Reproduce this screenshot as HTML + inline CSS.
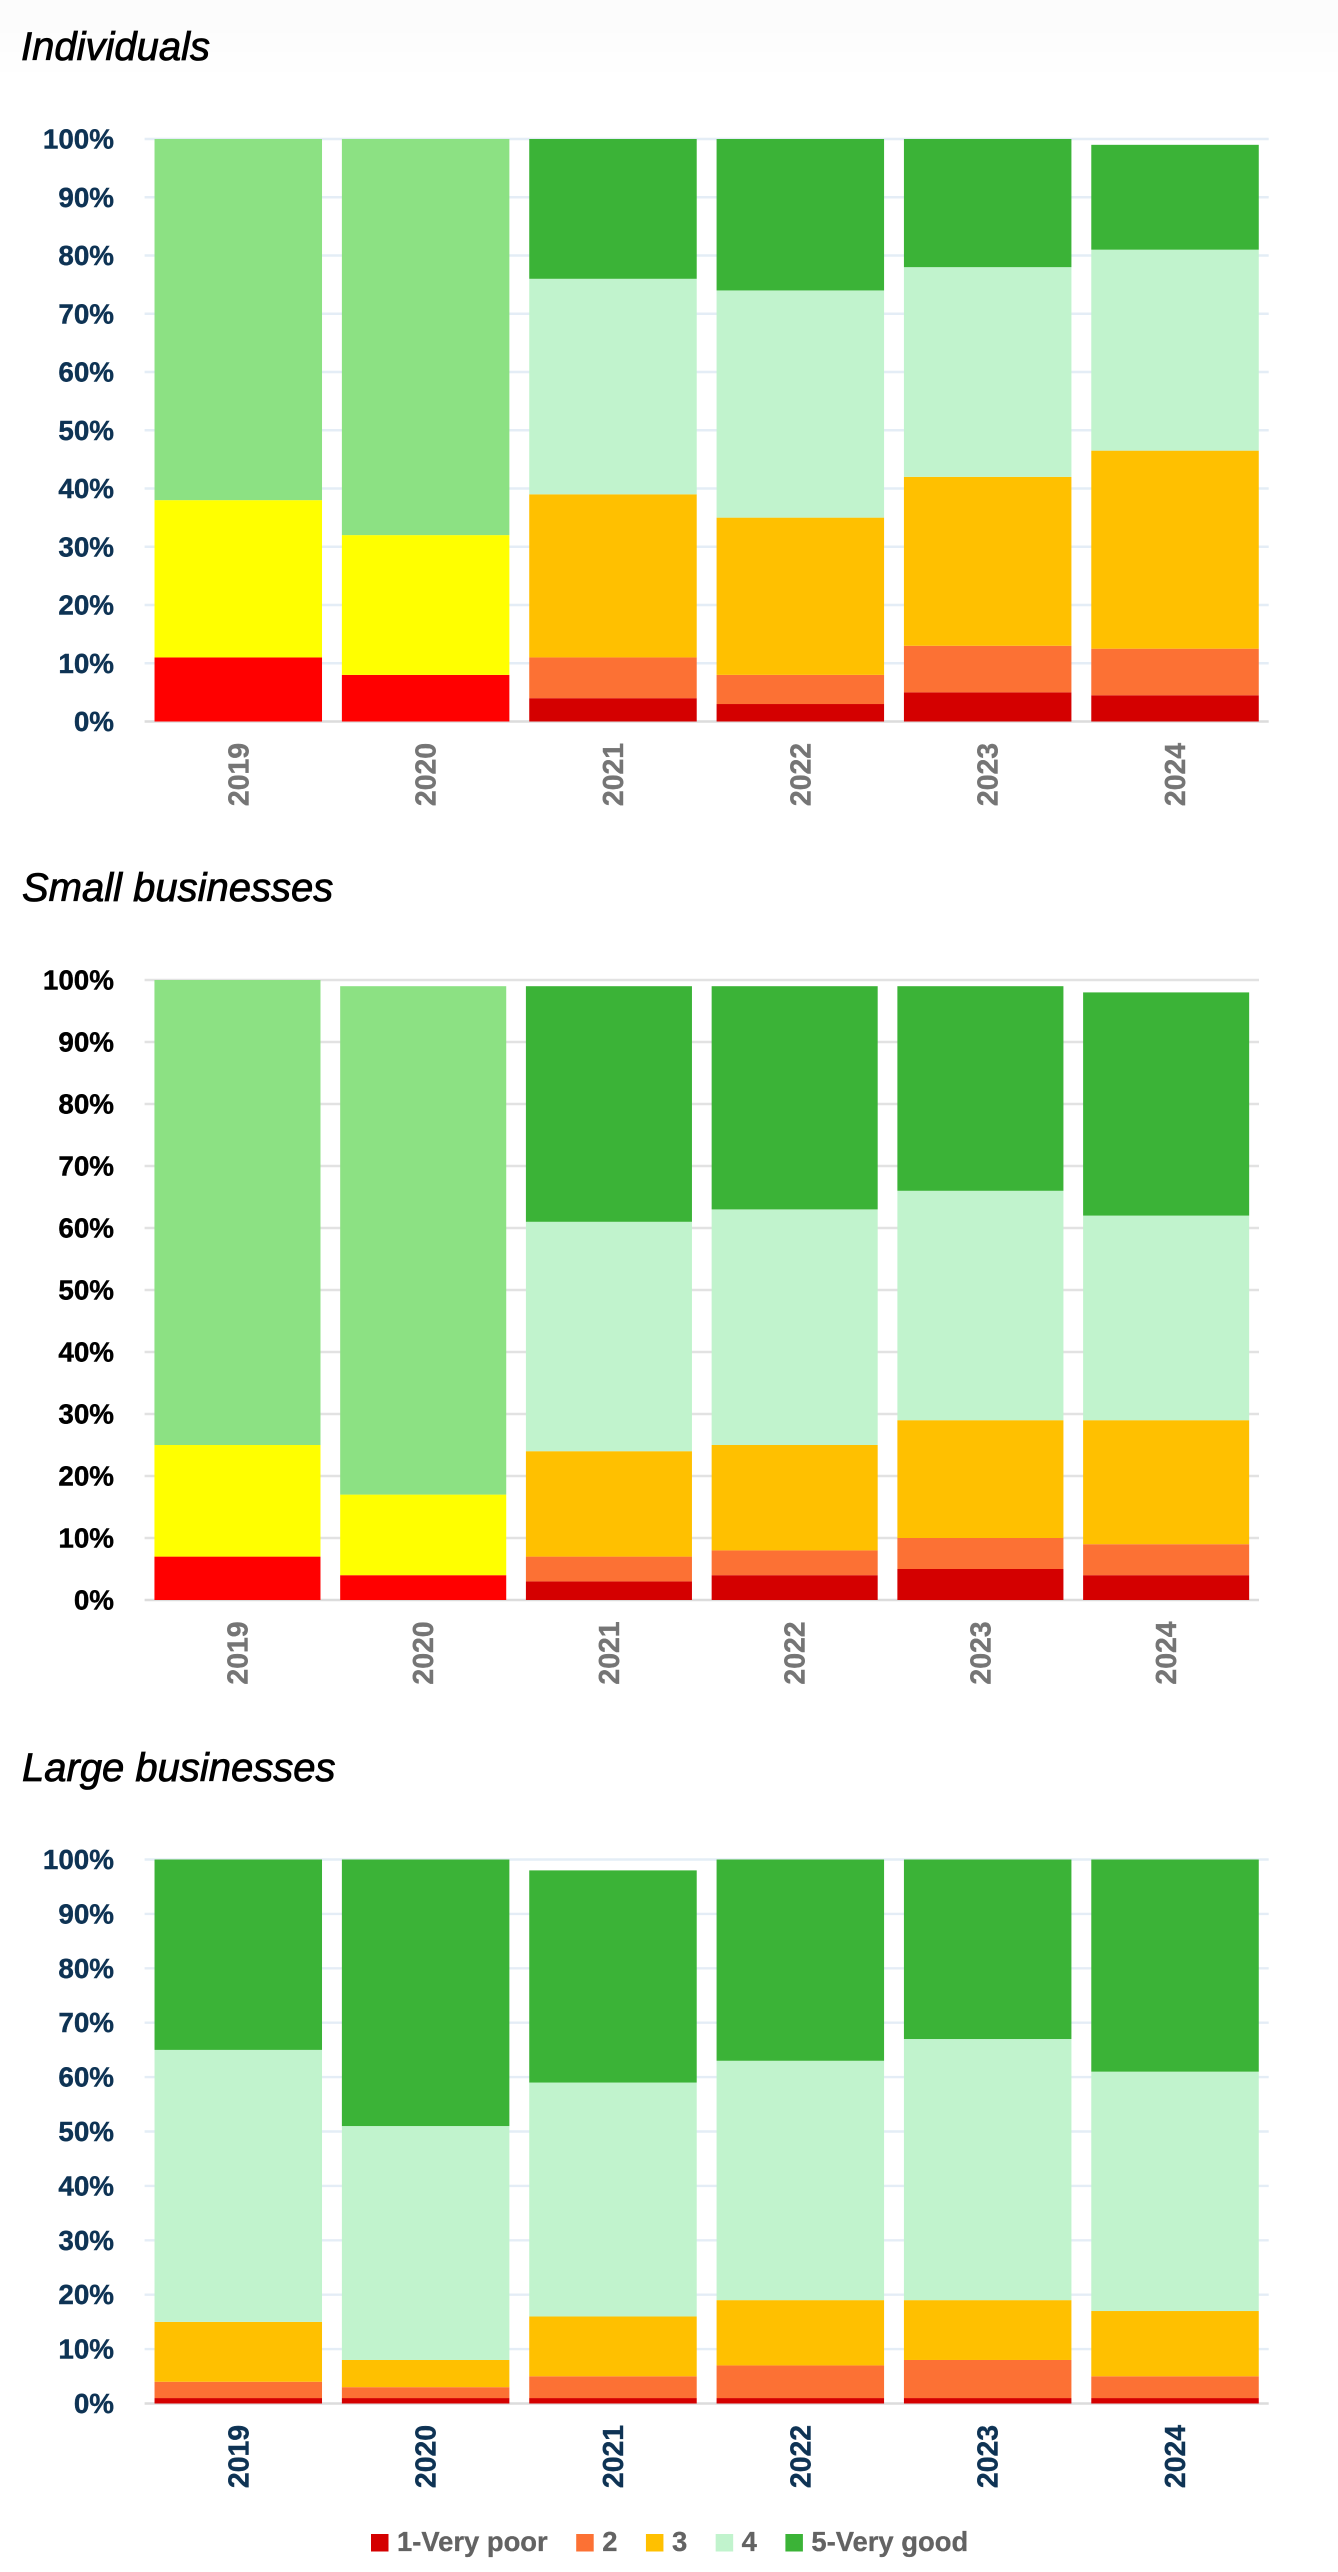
<!DOCTYPE html>
<html lang="en">
<head>
<meta charset="utf-8">
<title>Ratings by customer group, 2019-2024</title>
<style>
html,body{margin:0;padding:0;background:#fff}
svg{display:block}
text{font-family:"Liberation Sans",sans-serif}
.panel-title{font-size:40px;font-style:italic;fill:#000;stroke:#000;stroke-width:.8px}
.tick{font-size:27.8px;font-weight:700;stroke-width:.4px}
.cat{font-size:28.4px;font-weight:700;stroke-width:.4px}
.legend-text{font-size:27.4px;font-weight:700;fill:#636363;stroke:#636363;stroke-width:.3px}
</style>
</head>
<body>
<svg id="root" xmlns="http://www.w3.org/2000/svg" width="1338" height="2572" viewBox="0 0 1338 2572">
  <rect x="0" y="0" width="1338" height="2572" fill="#ffffff"/>
  <rect x="0" y="0" width="1338" height="72" fill="#fefefe"/>
  <rect x="0" y="0" width="1338" height="52" fill="#fdfdfd"/>
  <rect x="0" y="0" width="1338" height="33" fill="#fcfcfc"/>
  <text class="panel-title" x="21" y="60">Individuals</text>
  <text class="panel-title" x="22" y="901">Small businesses</text>
  <text class="panel-title" x="22" y="1781">Large businesses</text>
  <g id="panel-individuals"></g>
  <g id="panel-small"></g>
  <g id="panel-large"></g>
  <g id="legend"></g>
</svg>
<script>
const categories = ['2019', '2020', '2021', '2022', '2023', '2024'];
const tickValues = [0, 10, 20, 30, 40, 50, 60, 70, 80, 90, 100];
const tickLabels = ['0%', '10%', '20%', '30%', '40%', '50%', '60%', '70%', '80%', '90%', '100%'];
const legendLabels = ['1-Very poor', '2', '3', '4', '5-Very good'];

// Individuals: older three-level scale (2019-2020)
const individualsOldLow = [11, 8, 0, 0, 0, 0];
const individualsOldMid = [27, 24, 0, 0, 0, 0];
const individualsOldHigh = [62, 68, 0, 0, 0, 0];
// Individuals: five-level scale
const individualsR1 = [0, 0, 4, 3, 5, 4.5];
const individualsR2 = [0, 0, 7, 5, 8, 8];
const individualsR3 = [0, 0, 28, 27, 29, 34];
const individualsR4 = [0, 0, 37, 39, 36, 34.5];
const individualsR5 = [0, 0, 24, 26, 22, 18];

// Small businesses: older three-level scale
const smallOldLow = [7, 4, 0, 0, 0, 0];
const smallOldMid = [18, 13, 0, 0, 0, 0];
const smallOldHigh = [75, 82, 0, 0, 0, 0];
// Small businesses: five-level scale
const smallR1 = [0, 0, 3, 4, 5, 4];
const smallR2 = [0, 0, 4, 4, 5, 5];
const smallR3 = [0, 0, 17, 17, 19, 20];
const smallR4 = [0, 0, 37, 38, 37, 33];
const smallR5 = [0, 0, 38, 36, 33, 36];

// Large businesses: five-level scale in all years
const largeR1 = [1, 1, 1, 1, 1, 1];
const largeR2 = [3, 2, 4, 6, 7, 4];
const largeR3 = [11, 5, 11, 12, 11, 12];
const largeR4 = [50, 43, 43, 44, 48, 44];
const largeR5 = [35, 49, 39, 37, 33, 39];

const NS = 'http://www.w3.org/2000/svg';
const COLORS = {
  r1: '#d40000', r2: '#fc7134', r3: '#ffc000', r4: '#c1f3cd', r5: '#3bb337',
  oldLow: '#ff0000', oldMid: '#ffff00', oldHigh: '#8ce183'
};

function mk(parent, tag, attrs) {
  const el = document.createElementNS(NS, tag);
  for (const k in attrs) el.setAttribute(k, attrs[k]);
  parent.appendChild(el);
  return el;
}

function drawPanel(cfg) {
  const root = document.getElementById(cfg.id);
  const band = (cfg.right - cfg.left) / categories.length;
  const barW = band * 0.894;
  const xCenter = i => cfg.left + band * (i + 0.5);
  const yScale = v => cfg.y0 + (cfg.y100 - cfg.y0) * v / 100;

  tickValues.forEach((v, t) => {
    const line = mk(root, 'line', {
      x1: cfg.left, x2: cfg.right, y1: yScale(v), y2: yScale(v),
      stroke: v === 0 ? '#dcdcdc' : cfg.gridColor, 'stroke-width': 2.4
    });
    
    

    const label = mk(root, 'text', {
      class: 'tick', x: 114, y: yScale(v) + 9.5, 'text-anchor': 'end', fill: cfg.tickColor, stroke: cfg.tickColor
    });
    label.textContent = tickLabels[t];
    
    
  });

  categories.forEach((cat, i) => {
    let base = 0;
    cfg.series.forEach(s => {
      const val = s.values[i];
      if (!val) return;
      const yTop = yScale(base + val);
      const yBot = yScale(base);
      const bar = mk(root, 'rect', {
        x: xCenter(i) - barW / 2, y: yTop, width: barW, height: yBot - yTop, fill: s.color
      });
      
      
      base += val;
    });

    const cx = xCenter(i);
    const cy = cfg.y0 + 53;
    const label = mk(root, 'text', {
      class: 'cat', transform: 'translate(' + (cx + 10) + ',' + cy + ') rotate(-90)',
      'text-anchor': 'middle', fill: cfg.catColor, stroke: cfg.catColor
    });
    label.textContent = cat;
    
    
  });
}

drawPanel({
  id: 'panel-individuals', left: 144.6, right: 1268.7, y0: 721.5, y100: 139,
  gridColor: '#e4edf6', tickColor: '#0e3354', catColor: '#757575',
  series: [
    { name: 'old-low', color: COLORS.oldLow, values: individualsOldLow },
    { name: 'old-mid', color: COLORS.oldMid, values: individualsOldMid },
    { name: 'old-high', color: COLORS.oldHigh, values: individualsOldHigh },
    { name: 'rating-1', color: COLORS.r1, values: individualsR1 },
    { name: 'rating-2', color: COLORS.r2, values: individualsR2 },
    { name: 'rating-3', color: COLORS.r3, values: individualsR3 },
    { name: 'rating-4', color: COLORS.r4, values: individualsR4 },
    { name: 'rating-5', color: COLORS.r5, values: individualsR5 }
  ]
});

drawPanel({
  id: 'panel-small', left: 144.6, right: 1259, y0: 1600, y100: 980,
  gridColor: '#e2e2e2', tickColor: '#000000', catColor: '#757575',
  series: [
    { name: 'old-low', color: COLORS.oldLow, values: smallOldLow },
    { name: 'old-mid', color: COLORS.oldMid, values: smallOldMid },
    { name: 'old-high', color: COLORS.oldHigh, values: smallOldHigh },
    { name: 'rating-1', color: COLORS.r1, values: smallR1 },
    { name: 'rating-2', color: COLORS.r2, values: smallR2 },
    { name: 'rating-3', color: COLORS.r3, values: smallR3 },
    { name: 'rating-4', color: COLORS.r4, values: smallR4 },
    { name: 'rating-5', color: COLORS.r5, values: smallR5 }
  ]
});

drawPanel({
  id: 'panel-large', left: 144.6, right: 1268.7, y0: 2403.5, y100: 1859.5,
  gridColor: '#e4edf6', tickColor: '#0e3354', catColor: '#0e3354',
  series: [
    { name: 'rating-1', color: COLORS.r1, values: largeR1 },
    { name: 'rating-2', color: COLORS.r2, values: largeR2 },
    { name: 'rating-3', color: COLORS.r3, values: largeR3 },
    { name: 'rating-4', color: COLORS.r4, values: largeR4 },
    { name: 'rating-5', color: COLORS.r5, values: largeR5 }
  ]
});

const legendRoot = document.getElementById('legend');
const legendColors = [COLORS.r1, COLORS.r2, COLORS.r3, COLORS.r4, COLORS.r5];
let legendX = 371;
legendLabels.forEach((txt, i) => {
  const swatch = mk(legendRoot, 'rect', { x: legendX, y: 2534, width: 17.5, height: 17.5, fill: legendColors[i] });
  
  

  const label = mk(legendRoot, 'text', { class: 'legend-text', x: legendX + 26, y: 2551 });
  label.textContent = txt;
  
  

  legendX += 26 + label.getComputedTextLength() + 28.5;
});
</script>
</body>
</html>
